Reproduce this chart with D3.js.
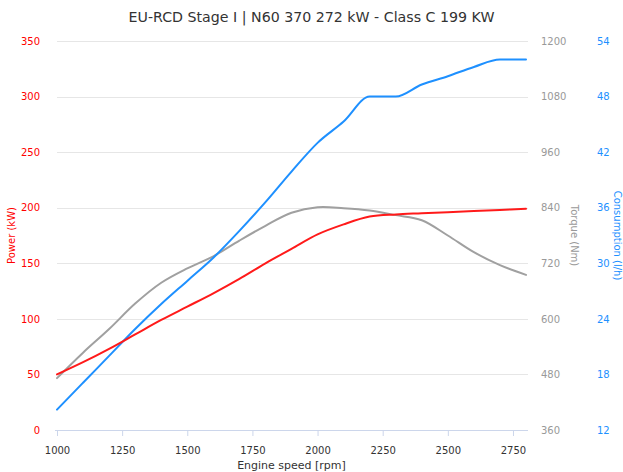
<!DOCTYPE html>
<html><head><meta charset="utf-8">
<script src="https://cdn.jsdelivr.net/npm/d3@7"></script>
<style>body{margin:0;background:#fff}svg{display:block}text{font-family:"DejaVu Sans",sans-serif}</style>
</head><body><div id="chart"></div>
<script>
const rpm = [1000,1100,1200,1300,1400,1500,1600,1700,1800,1900,2000,2100,2200,2300,2400,2500,2600,2700,2800];
const power = [50,61,73,86,99,111,123,136,150,163,176,185,192,194,195,196,197,198,199];
const torque = [472,527,578,633,678,709,735,769,801,829,841,839,834,824,813,780,744,716,695];
const consumption = [14.2,17.1,20.0,22.9,25.6,28.1,30.6,33.5,36.6,39.9,43.0,45.3,48.0,48.0,49.3,50.2,51.2,52.0,52.0];
const xTicks = [1000,1250,1500,1750,2000,2250,2500,2750];
const powerTicks = [0,50,100,150,200,250,300,350];
const torqueTicks = [360,480,600,720,840,960,1080,1200];
const consTicks = [12,18,24,30,36,42,48,54];
const title = "EU-RCD Stage I | N60 370 272 kW - Class C 199 KW";

const W = 623, H = 472;
const L = 57, R = 526, T = 41, B = 430;
const svg = d3.select("#chart").append("svg").attr("width", W).attr("height", H);

const x = d3.scaleLinear().domain([1000, 2800]).range([L, R]);
const yP = d3.scaleLinear().domain([0, 350]).range([B, T]);
const yT = d3.scaleLinear().domain([360, 1200]).range([B, T]);
const yC = d3.scaleLinear().domain([12, 54]).range([B, T]);

// grid
svg.append("g").selectAll("line").data(powerTicks.slice(1)).join("line")
  .attr("x1", L).attr("x2", R + 2).attr("y1", d => Math.round(yP(d)) + 0.5).attr("y2", d => Math.round(yP(d)) + 0.5)
  .attr("stroke", "#e6e6e6").attr("stroke-width", 1);

// x axis
const xAxis = d3.axisBottom(x).tickValues(xTicks).tickSize(6).tickPadding(11).tickFormat(d3.format("d"));
const gx = svg.append("g").attr("transform", `translate(0,${B})`).call(xAxis);
gx.select(".domain").attr("stroke", "#ccd6eb").attr("d", `M${L - 2},0.5H${R + 2}`);
gx.selectAll(".tick line").attr("stroke", "#ccd6eb");
gx.selectAll(".tick text").attr("fill", "#333").attr("font-size", 10);

// left axis
const gl = svg.append("g").attr("transform", `translate(${L - 17},0)`)
  .call(d3.axisLeft(yP).tickValues(powerTicks).tickSize(0).tickPadding(0).tickFormat(d3.format("d")));
gl.select(".domain").remove();
gl.selectAll(".tick text").attr("fill", "#ff0000").attr("font-size", 10);

const gt = svg.append("g").attr("transform", `translate(${R + 15},0)`)
  .call(d3.axisRight(yT).tickValues(torqueTicks).tickSize(0).tickPadding(0).tickFormat(d3.format("d")));
gt.select(".domain").remove();
gt.selectAll(".tick text").attr("fill", "#999").attr("font-size", 10);

const gc = svg.append("g").attr("transform", `translate(${R + 71},0)`)
  .call(d3.axisRight(yC).tickValues(consTicks).tickSize(0).tickPadding(0).tickFormat(d3.format("d")));
gc.select(".domain").remove();
gc.selectAll(".tick text").attr("fill", "#1e90ff").attr("font-size", 10);

// axis titles
svg.append("text").attr("transform", `translate(15,${(T + B) / 2}) rotate(-90)`)
  .attr("text-anchor", "middle").attr("fill", "#ff0000").attr("font-size", 10).text("Power (kW)");
svg.append("text").attr("transform", `translate(571,${(T + B) / 2}) rotate(90)`)
  .attr("text-anchor", "middle").attr("fill", "#999").attr("font-size", 10).text("Torque (Nm)");
svg.append("text").attr("transform", `translate(614,${(T + B) / 2}) rotate(90)`)
  .attr("text-anchor", "middle").attr("fill", "#1e90ff").attr("font-size", 10).text("Consumption (l/h)");
svg.append("text").attr("x", (L + R) / 2).attr("y", 469).attr("text-anchor", "middle")
  .attr("fill", "#333").attr("font-size", 11).text("Engine speed [rpm]");

svg.append("text").attr("x", W / 2).attr("y", 22).attr("text-anchor", "middle")
  .attr("fill", "#333").attr("font-size", 14.2).text(title);

// lines
function draw(vals, y, color, curve) {
  const line = d3.line().x((d, i) => x(rpm[i])).y(d => y(d)).curve(curve);
  svg.append("path").datum(vals).attr("d", line).attr("fill", "none")
    .attr("stroke", color).attr("stroke-width", 2).attr("stroke-linejoin", "round").attr("stroke-linecap", "round");
}
draw(torque, yT, "#a0a0a0", d3.curveCatmullRom.alpha(0.5));
draw(consumption, yC, "#1e90ff", d3.curveMonotoneX);
draw(power, yP, "#ff1a1a", d3.curveCatmullRom.alpha(0.5));
</script></body></html>
